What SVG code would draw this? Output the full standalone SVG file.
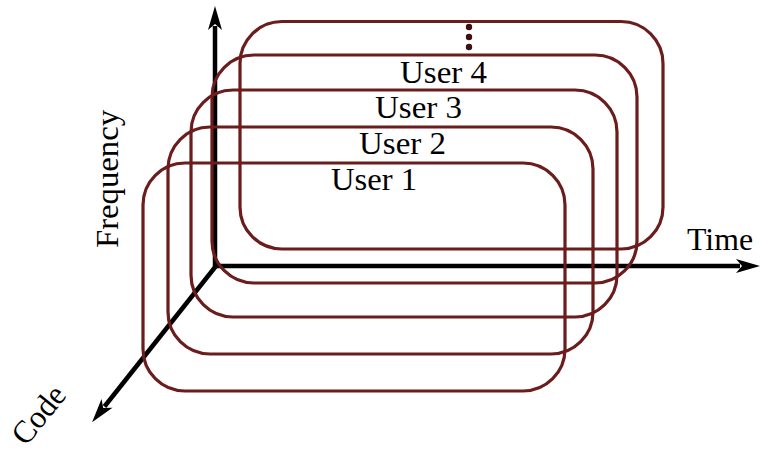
<svg xmlns="http://www.w3.org/2000/svg" width="763" height="453" viewBox="0 0 763 453">
  <defs>
    <style>
      .axis { stroke: #000; stroke-width: 4.5; fill: none; }
      .slot { fill: none; stroke: #6b1c1c; stroke-width: 3.2; }
      .lbl { font-family: "Liberation Serif", "Times New Roman", serif; font-size: 32px; fill: #000; }
      .dot { fill: #3e1010; }
    </style>
    <marker id="head" viewBox="-6 -8 28 16" refX="0" refY="0" markerWidth="28" markerHeight="16" markerUnits="userSpaceOnUse" orient="auto">
      <path d="M20,0 L-4,-7 L2,0 L-4,7 Z" fill="#000"/>
    </marker>
  </defs>

  <rect width="763" height="453" fill="#fff"/>

  <!-- axes: frequency (up), time (right), code (down-left) -->
  <g id="axes">
    <line class="axis" x1="215" y1="268" x2="215" y2="26" marker-end="url(#head)"/>
    <line class="axis" x1="213" y1="266" x2="740" y2="266" marker-end="url(#head)"/>
    <line class="axis" x1="216" y1="266" x2="104.5" y2="406.5" marker-end="url(#head)"/>
  </g>

  <!-- one rounded slot per user, stacked back to front -->
  <g id="slots">
    <g id="slot-back"><rect class="slot" x="240" y="21.5" width="423" height="227.5" rx="42"/></g>
    <g id="slot-user4"><rect class="slot" x="212" y="55" width="425" height="228" rx="42"/></g>
    <g id="slot-user3"><rect class="slot" x="191" y="90" width="426" height="227" rx="42"/></g>
    <g id="slot-user2"><rect class="slot" x="168" y="127" width="425" height="227" rx="42"/></g>
    <g id="slot-user1"><rect class="slot" x="143" y="163" width="422" height="228" rx="42"/></g>
  </g>

  <!-- more users -->
  <g id="ellipsis">
    <circle class="dot" cx="469" cy="27" r="3.2"/>
    <circle class="dot" cx="469" cy="37" r="3.2"/>
    <circle class="dot" cx="469" cy="47" r="3.2"/>
  </g>

  <g id="labels">
    <text class="lbl" x="400" y="83" textLength="87" lengthAdjust="spacingAndGlyphs">User 4</text>
    <text class="lbl" x="375" y="118" textLength="87" lengthAdjust="spacingAndGlyphs">User 3</text>
    <text class="lbl" x="359" y="154" textLength="87" lengthAdjust="spacingAndGlyphs">User 2</text>
    <text class="lbl" x="331" y="190" textLength="86" lengthAdjust="spacingAndGlyphs">User 1</text>
    <text class="lbl" x="687" y="250" textLength="66" lengthAdjust="spacingAndGlyphs">Time</text>
    <text class="lbl" transform="translate(118,248) rotate(-90)" textLength="138" lengthAdjust="spacingAndGlyphs">Frequency</text>
    <text class="lbl" transform="translate(26,447) rotate(-51)" textLength="66" lengthAdjust="spacingAndGlyphs">Code</text>
  </g>
</svg>
